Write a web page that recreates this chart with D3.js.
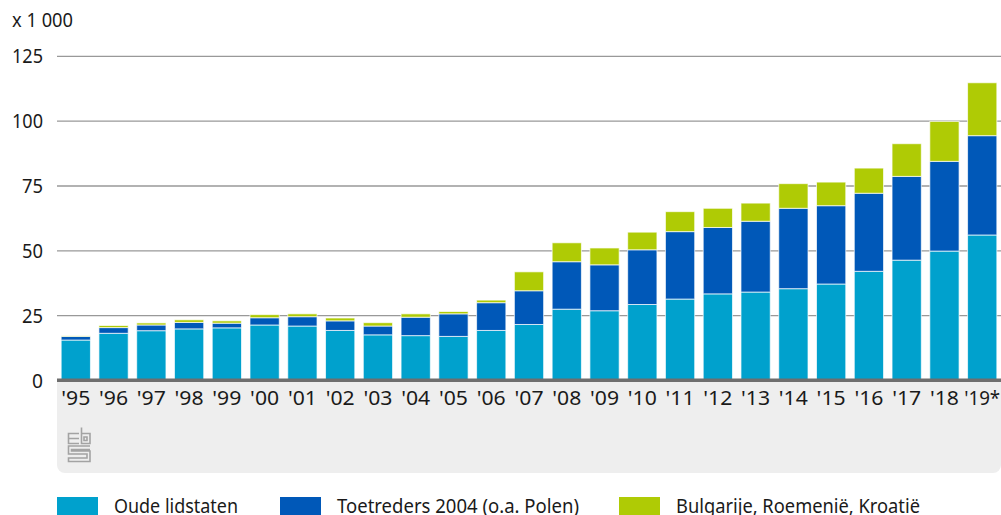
<!DOCTYPE html>
<html><head><meta charset="utf-8">
<script src="https://cdn.jsdelivr.net/npm/d3@7/dist/d3.min.js"></script>
<style>html,body{margin:0;padding:0;background:#fff;overflow:hidden}svg{display:block}text{font-family:"Noto Sans",sans-serif;fill:#1a1a1a}</style>
</head><body><svg id="c" width="1001" height="515"></svg>
<script>
const years=["'95","'96","'97","'98","'99","'00","'01","'02","'03","'04","'05","'06","'07","'08","'09","'10","'11","'12","'13","'14","'15","'16","'17","'18","'19*"];
const oude=[15.6,18.2,19.2,19.9,20.3,21.4,21,19.3,17.6,17.3,17,19.3,21.6,27.5,26.9,29.3,31.4,33.4,34.1,35.4,37.2,42.1,46.4,49.9,56.1];
const toetreders=[1.4,2.2,2.2,2.5,1.8,2.8,3.6,3.7,3.4,7.1,8.7,10.7,13,18.3,17.7,21.1,26,25.6,27.3,31,30.2,30.1,32.3,34.6,38.3];
const bulgarije=[0.2,0.8,0.8,1,0.9,1.2,1.1,1.1,1.3,1.3,0.9,1,7.3,7.3,6.5,6.8,7.7,7.4,7,9.5,9.1,9.7,12.6,15.4,20.4];
const yTicks=[0,25,50,75,100,125];
const names=["Oude lidstaten","Toetreders 2004 (o.a. Polen)","Bulgarije, Roemenië, Kroatië"];
const colors=["#00a1cd","#0058b8","#afcb05"];
const legendX=[57,280,619], legendW=[124,242,244];

const svg=d3.select("#c");
const x=d3.scaleBand().domain(years).range([57,1001]).paddingInner(0.225).paddingOuter(0.11);
const y=d3.scaleLinear().domain([0,125]).range([380.5,56.3]);

svg.append("path").attr("fill","#eeeeee")
  .attr("d","M57,381H1001V465a8,8 0 0 1 -8,8H65a8,8 0 0 1 -8,-8Z");

svg.append("g").selectAll("line").data(yTicks.filter(d=>d>0)).join("line")
  .attr("x1",57).attr("x2",1001).attr("y1",d=>y(d)).attr("y2",d=>y(d))
  .attr("stroke","#999").attr("stroke-width",1.3);

const rows=years.map((yr,i)=>({yr,a:oude[i],b:toetreders[i],c:bulgarije[i]}));
const stack=d3.stack().keys(["a","b","c"])(rows);
svg.append("g").selectAll("g").data(stack).join("g").attr("fill",(d,i)=>colors[i])
  .selectAll("rect").data(d=>d).join("rect")
  .attr("x",d=>x(d.data.yr)).attr("width",x.bandwidth())
  .attr("y",d=>y(d[1])).attr("height",d=>y(d[0])-y(d[1]))
  .attr("stroke","#fff").attr("stroke-opacity",0.7).attr("stroke-width",1);

svg.append("line").attr("x1",57).attr("x2",1001).attr("y1",380.3).attr("y2",380.3).attr("stroke","#6e6e6e").attr("stroke-width",3.6);

svg.append("g").selectAll("text").data(yTicks).join("text")
  .attr("x",43).attr("y",d=>y(d)+7).attr("text-anchor","end").attr("font-size",20)
  .attr("textLength",d=>d===0?11:d<100?21:31).attr("lengthAdjust","spacingAndGlyphs").text(d=>d);
svg.append("text").attr("x",12).attr("y",27).attr("font-size",19.5).attr("textLength",61).attr("lengthAdjust","spacingAndGlyphs").text("x 1 000");

svg.append("g").selectAll("text").data(years).join("text")
  .attr("x",d=>x(d)+x.bandwidth()/2).attr("y",405).attr("text-anchor","middle").attr("font-size",19.5)
  .attr("textLength",d=>d.length>3?36:29).attr("lengthAdjust","spacingAndGlyphs").text(d=>d);

// cbs logo
const logo=svg.append("g").attr("fill","none").attr("stroke","#a3a3a3").attr("stroke-width",1.6);
logo.append("path").attr("d","M79,433.5H68.5V443.5H79M68.5,438.5H79");
logo.append("path").attr("d","M81.5,427.5V443.5H90V433.5H81.5");
logo.append("path").attr("d","M84,437H87V440.5H84Z");
logo.append("path").attr("d","M90,446H68.5V454H87V458H68.5V461.5H90V451H71.5V449.5H90");

const lg=svg.append("g");
lg.selectAll("rect").data(names).join("rect")
  .attr("x",(d,i)=>legendX[i]).attr("y",497).attr("width",41).attr("height",18).attr("fill",(d,i)=>colors[i]);
lg.selectAll("text").data(names).join("text")
  .attr("x",(d,i)=>legendX[i]+57).attr("y",513).attr("font-size",20.5)
  .attr("textLength",(d,i)=>legendW[i]).attr("lengthAdjust","spacingAndGlyphs").text(d=>d);
</script></body></html>
